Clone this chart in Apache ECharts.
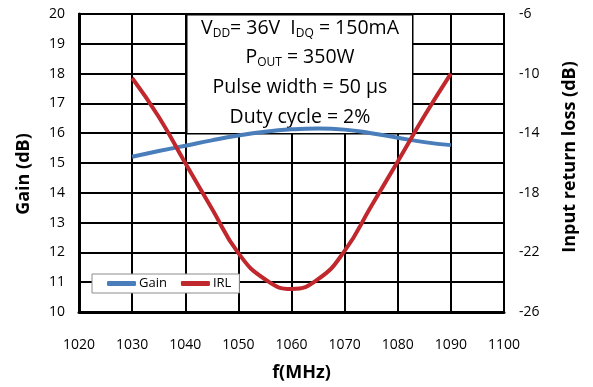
<!DOCTYPE html>
<html><head><meta charset="utf-8">
<script src="https://cdn.jsdelivr.net/npm/echarts@6/dist/echarts.min.js"></script>
<style>html,body{margin:0;padding:0;background:#fff}#c{width:593px;height:387px}</style>
</head><body><div id="c"></div>
<script>
const freq = [1030, 1035, 1040, 1045, 1050, 1055, 1060, 1065, 1070, 1075, 1080, 1085, 1090];
const gain = [15.21, 15.40, 15.58, 15.76, 15.92, 16.05, 16.13, 16.16, 16.12, 16.00, 15.85, 15.70, 15.60];
const irl = [-10.3, -12.9, -16.0, -19.05, -22.05, -23.8, -24.45, -23.8, -21.9, -18.9, -15.9, -12.85, -10.0];
const xTicks = [1020, 1100, 10];
const gainTicks = [10, 20, 1];
const irlTicks = [-26, -6, 4];
const seriesNames = ['Gain', 'IRL'];

const FONT = '"Open Sans", Lato, sans-serif';
const chart = echarts.init(document.getElementById('c'));
const sub = { fontSize: 12, fontFamily: FONT, padding: [11, 0, 0, 0] };
chart.setOption({
  animation: false,
  textStyle: { fontFamily: FONT },
  grid: { left: 79, right: 89, top: 14, bottom: 70, show: true, borderColor: '#000', borderWidth: 2, backgroundColor: 'transparent' },
  legend: {
    left: 92, top: 274, width: 155,
    data: seriesNames,
    backgroundColor: '#fff', borderColor: '#8c8c8c', borderWidth: 1,
    padding: [3, 8, 3, 15],
    itemGap: 14, itemWidth: 29, itemHeight: 5, icon: 'roundRect',
    textStyle: { fontFamily: FONT, fontSize: 13, color: '#000', padding: [0, 0, 0, -2] }
  },
  xAxis: {
    type: 'value', min: xTicks[0], max: xTicks[1], interval: xTicks[2],
    name: 'f(MHz)', nameLocation: 'middle', nameGap: 52,
    nameTextStyle: { fontFamily: FONT, fontSize: 18, fontWeight: 'bold', color: '#000', padding: [0, 0, 0, 20] },
    axisLine: { show: true, onZero: false, lineStyle: { color: '#000', width: 3 } },
    axisTick: { show: false },
    axisLabel: { fontFamily: FONT, fontSize: 14, color: '#000', margin: 26, formatter: v => String(v) },
    splitLine: { show: true, lineStyle: { color: '#000', width: 2 } }
  },
  yAxis: [{
    type: 'value', position: 'left', min: gainTicks[0], max: gainTicks[1], interval: gainTicks[2],
    name: 'Gain (dB)', nameLocation: 'middle', nameGap: 46, nameRotate: 90,
    nameTextStyle: { fontFamily: FONT, fontSize: 18, fontWeight: 'bold', color: '#000', padding: [0, 22, 0, 0] },
    axisLine: { show: true, lineStyle: { color: '#000', width: 3 } },
    axisTick: { show: false },
    axisLabel: { fontFamily: FONT, fontSize: 14, color: '#000', margin: 14 },
    splitLine: { show: true, lineStyle: { color: '#000', width: 2 } }
  }, {
    type: 'value', position: 'right', min: irlTicks[0], max: irlTicks[1], interval: irlTicks[2],
    name: 'Input return loss (dB)', nameLocation: 'middle', nameGap: 57, nameRotate: 90,
    nameTextStyle: { fontFamily: FONT, fontSize: 18, fontWeight: 'bold', color: '#000', padding: [0, 0, 0, 12] },
    axisLine: { show: true, lineStyle: { color: '#000', width: 2 } },
    axisTick: { show: false },
    axisLabel: { fontFamily: FONT, fontSize: 14, color: '#000', margin: 15 },
    splitLine: { show: false }
  }],
  graphic: [
    { type: 'rect', left: 186, top: 14, z: 50, shape: { x: 0, y: 0, width: 226, height: 119 }, style: { fill: '#fff', stroke: '#000', lineWidth: 1.5 } },
    { type: 'text', x: 300, y: 28, z: 51, style: { text: 'V{s|DD}= 36V  I{s|DQ} = 150mA', align: 'center', verticalAlign: 'middle', fontFamily: FONT, fontSize: 19.5, fill: '#000', rich: { s: sub } } },
    { type: 'text', x: 300, y: 57, z: 51, style: { text: 'P{s|OUT} = 350W', align: 'center', verticalAlign: 'middle', fontFamily: FONT, fontSize: 19.5, fill: '#000', rich: { s: sub } } },
    { type: 'text', x: 300, y: 87, z: 51, style: { text: 'Pulse width = 50 \u00b5s', align: 'center', verticalAlign: 'middle', fontFamily: FONT, fontSize: 19.5, fill: '#000' } },
    { type: 'text', x: 300, y: 117, z: 51, style: { text: 'Duty cycle = 2%', align: 'center', verticalAlign: 'middle', fontFamily: FONT, fontSize: 19.5, fill: '#000' } }
  ],
  series: [{
    name: seriesNames[0], type: 'line', yAxisIndex: 0, smooth: true, showSymbol: false, z: 60,
    data: freq.map((f, i) => [f, gain[i]]),
    itemStyle: { color: '#4A7EBB' }, lineStyle: { color: '#4A7EBB', width: 4 }
  }, {
    name: seriesNames[1], type: 'line', yAxisIndex: 1, smooth: true, showSymbol: false, z: 61,
    data: freq.map((f, i) => [f, irl[i]]),
    itemStyle: { color: '#C0282D' }, lineStyle: { color: '#C0282D', width: 4 }
  }]
});
</script></body></html>
